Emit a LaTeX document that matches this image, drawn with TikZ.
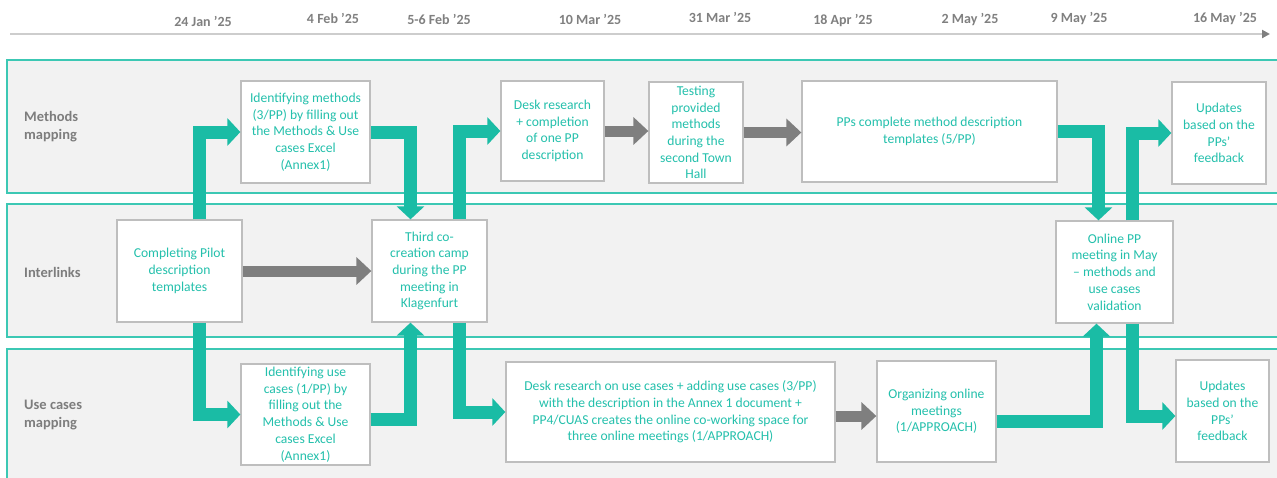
\documentclass[tikz,border=0pt]{standalone}
\usepackage{fontspec}
\setmainfont{Carlito}
\usetikzlibrary{arrows.meta,calc}

\definecolor{flowteal}{RGB}{26,188,165}
\definecolor{tasktext}{RGB}{36,192,172}
\definecolor{laneline}{RGB}{60,200,180}
\definecolor{lanefill}{RGB}{242,242,242}
\definecolor{boxline}{RGB}{190,190,190}
\definecolor{flowgray}{RGB}{127,127,127}
\definecolor{labelgray}{RGB}{125,125,125}
\definecolor{dategray}{RGB}{128,128,128}
\definecolor{axisgray}{RGB}{205,205,205}

\begin{document}
\begin{tikzpicture}[x=1pt,y=-1pt,
  lane/.style={draw=laneline,fill=lanefill,line width=1.8pt},
  task/.style={draw=boxline,fill=white,line width=1.3pt,inner sep=0pt,
    align=center,text=tasktext,font=\fontsize{13.6}{16.7}\selectfont},
  flow/.style={draw=flowteal,line width=13pt,line join=miter,
    -{Triangle[width=27pt,length=13pt]}},
  gflow/.style={draw=flowgray,line width=11pt,
    -{Triangle[width=27pt,length=15pt]}},
  lanelabel/.style={text=labelgray,font=\bfseries\fontsize{14.5}{18}\selectfont,
    align=left,anchor=west,inner sep=0pt},
  datelabel/.style={text=dategray,font=\bfseries\fontsize{14}{16}\selectfont,inner sep=0pt},
  timeline/.style={draw=axisgray,line width=2pt,
    -{Triangle[width=8pt,length=8pt,color=flowgray]}}]

\useasboundingbox (0,0) rectangle (1277,477);
\fill[white] (0,0) rectangle (1277,477);

% swimlanes
\path[lane] (7,60) rectangle (1295,193);
\path[lane] (7,204) rectangle (1295,337);
\path[lane] (7,349) rectangle (1295,495);

\node[lanelabel] (Lm) at (24,127) {Methods\\mapping};
\node[lanelabel] (Li) at (24,272) {Interlinks};
\node[lanelabel] (Lu) at (24,415) {Use cases\\mapping};

% timeline
\coordinate (t0) at (10,34);
\coordinate (t1) at (1270,34);
\draw[timeline] (t0) -- (t1);
\node[datelabel] (d1) at (203,21) {24 Jan ’25};
\node[datelabel] (d2) at (333,18) {4 Feb ’25};
\node[datelabel] (d3) at (439,19) {5-6 Feb ’25};
\node[datelabel] (d4) at (590,19) {10 Mar ’25};
\node[datelabel] (d5) at (720,17) {31 Mar ’25};
\node[datelabel] (d6) at (843,21) {18 Apr ’25};
\node[datelabel] (d7) at (970,20) {2 May ’25};
\node[datelabel] (d8) at (1079,19) {9 May ’25};
\node[datelabel] (d9) at (1225,19) {16 May ’25};

% tasks: methods mapping
\node[task,minimum width=129pt,minimum height=102pt] (M1) at (305.5,132)
  {Identifying methods\\(3/PP) by filling out\\the Methods \& Use\\cases Excel\\(Annex1)};
\node[task,minimum width=103pt,minimum height=100pt] (M2) at (552.5,131)
  {Desk research\\+ completion\\of one PP\\description};
\node[task,minimum width=94pt,minimum height=101pt] (M3) at (696,132.5)
  {Testing\\provided\\methods\\during the\\second Town\\Hall};
\node[task,minimum width=255pt,minimum height=101pt] (M4) at (929.5,131.5)
  {PPs complete method description\\templates (5/PP)};
\node[task,minimum width=94pt,minimum height=102pt] (M5) at (1219,133)
  {Updates\\based on the\\PPs’\\feedback};

% tasks: interlinks
\node[task,minimum width=125pt,minimum height=102pt] (I1) at (179.5,271)
  {Completing Pilot\\description\\templates};
\node[task,minimum width=115pt,minimum height=102pt] (I2) at (429.5,271)
  {Third co-\\creation camp\\during the PP\\meeting in\\Klagenfurt};
\node[task,minimum width=117pt,minimum height=102pt] (I3) at (1114.5,272)
  {Online PP\\meeting in May\\– methods and\\use cases\\validation};

% tasks: use cases mapping
\node[task,minimum width=129pt,minimum height=101pt] (U1) at (305.5,414.5)
  {Identifying use\\cases (1/PP) by\\filling out the\\Methods \& Use\\cases Excel\\(Annex1)};
\node[task,minimum width=329pt,minimum height=100pt] (U2) at (670.5,412)
  {Desk research on use cases + adding use cases (3/PP)\\with the description in the Annex 1 document +\\PP4/CUAS creates the online co-working space for\\three online meetings (1/APPROACH)};
\node[task,minimum width=119pt,minimum height=101pt] (U3) at (936.5,411.5)
  {Organizing online\\meetings\\(1/APPROACH)};
\node[task,minimum width=93pt,minimum height=102pt] (U4) at (1222.5,411)
  {Updates\\based on the\\PPs’\\feedback};

% sequential steps within a lane
\draw[gflow] (I1.east) -- (I1.east -| I2.west);
\draw[gflow] (M2.east) -- (M2.east -| M3.west);
\draw[gflow] (M3.east) -- (M3.east -| M4.west);
\draw[gflow] ([yshift=-4pt]U2.east) -- ([yshift=-4pt]U2.east -| U3.west);

% links between lanes
\draw[flow] ([xshift=20pt]I1.north) |- (M1.west);
\draw[flow] ([xshift=20pt]I1.south) |- (U1.west);
\draw[flow] (M1.east) -| ([xshift=-19pt]I2.north);
\draw[flow] ([yshift=-5pt]U1.east) -| ([xshift=-19pt]I2.south);
\draw[flow] ([xshift=30pt]I2.north) |- (M2.west);
\draw[flow] ([xshift=30pt]I2.south) |- (U2.west);
\draw[flow] (M4.east) -| ([xshift=-16pt]I3.north);
\draw[flow] ([yshift=-10pt]U3.east) -| ([xshift=-18pt]I3.south);
\draw[flow] ([xshift=17.5pt]I3.north) |- (M5.west);
\draw[flow] ([xshift=17.5pt]I3.south) |- ([yshift=-5pt]U4.west);
\end{tikzpicture}
\end{document}
